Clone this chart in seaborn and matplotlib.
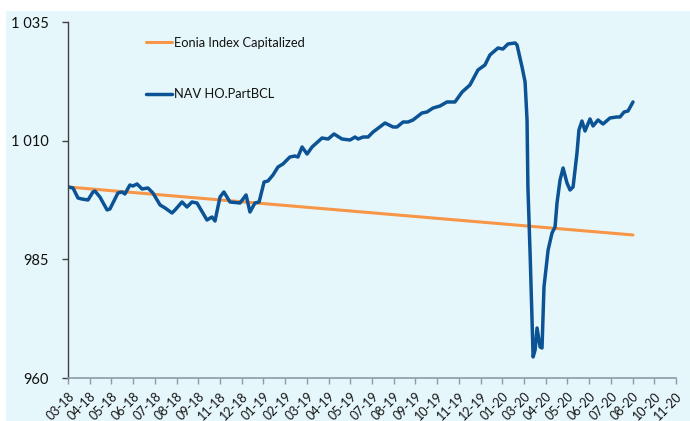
import matplotlib
matplotlib.use("Agg")
import matplotlib.pyplot as plt
import matplotlib.transforms as mtransforms
from matplotlib.patches import Rectangle
import seaborn as sns
import pandas as pd

# ---- data ----
tick_labels = ["03-18", "04-18", "05-18", "06-18", "07-18", "08-18", "09-18", "11-18",
               "12-18", "01-19", "02-19", "03-19", "04-19", "05-19", "07-19", "08-19",
               "09-19", "10-19", "11-19", "12-19", "01-20", "03-20", "04-20", "05-20",
               "06-20", "07-20", "08-20", "10-20", "11-20"]

# x position expressed in tick-interval units (0 = first tick "03-18")
nav_x = [0, 0.23, 0.46, 0.64, 0.92, 1.15, 1.24, 1.47, 1.80, 1.93, 2.30, 2.49, 2.62, 2.85,
         2.99, 3.18, 3.41, 3.68, 3.91, 4.24, 4.47, 4.79, 4.93, 5.25, 5.48, 5.71, 5.94, 6.40,
         6.63, 6.77, 7.00, 7.18, 7.46, 7.92, 8.20, 8.38, 8.61, 8.80, 9.03, 9.21, 9.44, 9.67,
         9.90, 10.22, 10.45, 10.59, 10.78, 11.01, 11.24, 11.70, 11.98, 12.25, 12.62, 12.99,
         13.22, 13.36, 13.59, 13.82, 14.05, 14.60, 14.97, 15.15, 15.43, 15.66, 15.89, 16.30,
         16.53, 16.81, 17.13, 17.45, 17.82, 18.15, 18.51, 18.88, 19.20, 19.43, 19.80, 20.03,
         20.26, 20.59, 20.68, 20.91, 21.05, 21.14, 21.18, 21.28, 21.37, 21.42, 21.51, 21.60,
         21.74, 21.83, 21.92, 22.11, 22.29, 22.43, 22.52, 22.66, 22.80, 22.98, 23.12, 23.26,
         23.44, 23.53, 23.67, 23.81, 24.04, 24.18, 24.41, 24.64, 24.96, 25.28, 25.42, 25.61,
         25.79, 26.02]
nav_values = [1000.24, 1000.03, 997.92, 997.71, 997.50, 999.19, 999.40, 998.13, 995.40,
              995.61, 998.98, 999.19, 998.77, 1000.66, 1000.45, 1000.87, 999.82, 1000.03,
              998.98, 996.45, 995.82, 994.76, 995.40, 997.08, 996.03, 997.08, 996.87, 993.29,
              993.92, 993.08, 998.13, 999.19, 997.08, 996.87, 998.56, 994.97, 996.87, 997.08,
              1001.29, 1001.51, 1002.77, 1004.45, 1005.09, 1006.56, 1006.77, 1006.56, 1008.67,
              1007.19, 1008.67, 1010.56, 1010.35, 1011.41, 1010.35, 1010.14, 1010.77, 1010.35,
              1010.77, 1010.77, 1011.83, 1013.72, 1012.88, 1012.88, 1013.93, 1013.93, 1014.36,
              1015.83, 1016.04, 1016.88, 1017.30, 1018.15, 1018.15, 1020.25, 1021.73, 1024.89,
              1025.94, 1028.05, 1029.52, 1029.31, 1030.37, 1030.58, 1030.15, 1025.52, 1022.36,
              1014.36, 1000.24, 986.34, 972.22, 964.43, 965.90, 970.54, 966.54, 966.32, 979.18,
              986.97, 990.55, 991.81, 996.87, 1001.72, 1004.24, 1001.08, 999.61, 1000.24,
              1007.40, 1012.25, 1014.14, 1012.04, 1014.57, 1013.09, 1014.36, 1013.51, 1014.78,
              1014.99, 1014.99, 1016.04, 1016.25, 1018.15]

eonia_x = [0, 26.02]
eonia_values = [1000.24, 990.13]

y_ticks = [960, 985, 1010, 1035]
y_tick_labels = ["960", "985", "1 010", "1 035"]

series_names = ["Eonia Index Capitalized", "NAV HO.PartBCL"]

# ---- style ----
BG = "#E6F7FC"
ORANGE = "#F79646"
BLUE = "#0B5394"

sns.set_theme(style="white")
plt.rcParams["font.family"] = ["Lato", "DejaVu Sans"]

fig = plt.figure(figsize=(6.9, 4.21), dpi=100, facecolor="white")
fig.patches.append(Rectangle((6 / 690, 0), 1, 1 - 11 / 421, transform=fig.transFigure,
                             facecolor=BG, edgecolor="none", zorder=-10))
ax = fig.add_axes([68 / 690, 1 - 378 / 421, 608 / 690, 356 / 421])
ax.set_facecolor("none")

eonia_df = pd.DataFrame({"x": eonia_x, "value": eonia_values})
nav_df = pd.DataFrame({"x": nav_x, "value": nav_values})

sns.lineplot(data=eonia_df, x="x", y="value", ax=ax, color=ORANGE, linewidth=2.2,
             label=series_names[0], sort=False, estimator=None)
sns.lineplot(data=nav_df, x="x", y="value", ax=ax, color=BLUE, linewidth=2.5,
             label=series_names[1], sort=False, estimator=None)
for ln in ax.get_lines():
    ln.set_solid_joinstyle("round")
    ln.set_solid_capstyle("round")

ax.set_xlim(0, len(tick_labels) - 1)
ax.set_ylim(960, 1035)
ax.set_xlabel("")
ax.set_ylabel("")

ax.set_yticks(y_ticks)
ax.set_yticklabels(y_tick_labels, fontsize=10.5, color="#111111")
ax.set_xticks(range(len(tick_labels)))
ax.set_xticklabels(tick_labels, fontsize=9, color="#111111", rotation=45,
                   ha="right", va="top", rotation_mode="anchor")

offset = mtransforms.ScaledTranslation(-3 / 100, 0, fig.dpi_scale_trans)
for lbl in ax.get_xticklabels():
    lbl.set_transform(lbl.get_transform() + offset)

ax.tick_params(axis="y", direction="out", length=4, width=1, color="#404040", pad=10, left=True)
ax.tick_params(axis="x", direction="out", length=4, width=1, color="#8C9BA5", pad=5, bottom=True)

for s in ["top", "right"]:
    ax.spines[s].set_visible(False)
ax.spines["left"].set_color("#404040")
ax.spines["left"].set_linewidth(1)
ax.spines["bottom"].set_color("#8C9BA5")
ax.spines["bottom"].set_linewidth(1.2)

leg = ax.legend(loc="upper left", bbox_to_anchor=((146 - 68) / 608, 1 - (37 - 22) / 356),
                frameon=False, fontsize=9.3, handlelength=2.05, handletextpad=0.15,
                labelspacing=3.05, borderpad=0, borderaxespad=0)
for t in leg.get_texts():
    t.set_color("#111111")

fig.savefig("out.png", dpi=100, facecolor="white")
